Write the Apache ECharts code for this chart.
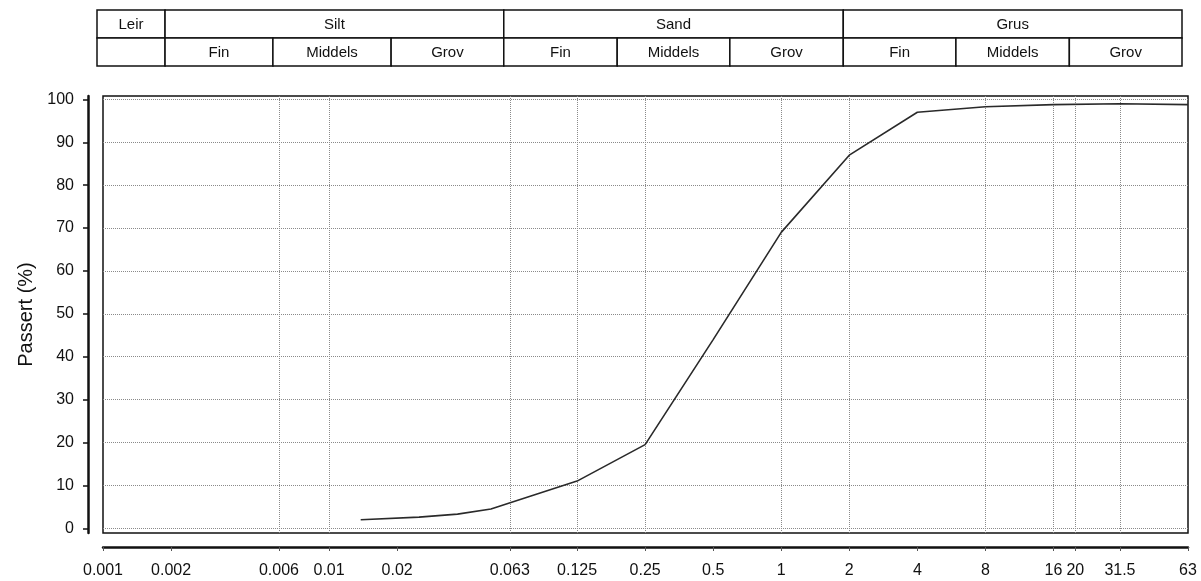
<!DOCTYPE html>
<html><head><meta charset="utf-8">
<script src="https://cdn.jsdelivr.net/npm/echarts@6/dist/echarts.min.js"></script>
<style>html,body{margin:0;padding:0;background:#fff}#c{width:1201px;height:581px}</style>
</head><body><div id="c"></div>
<script>
// Sieve curve data (grain size in mm, percent passing)
const grainSize = [0.0138, 0.025, 0.037, 0.052, 0.125, 0.25, 0.5, 1, 2, 4, 8, 16, 31.5, 63];
const passing   = [2.0, 2.6, 3.3, 4.5, 11, 19.5, 44, 69, 87, 97, 98.3, 98.8, 99, 98.8];

// Axis ticks
const xTickValues = [0.001, 0.002, 0.006, 0.01, 0.02, 0.063, 0.125, 0.25, 0.5, 1, 2, 4, 8, 16, 20, 31.5, 63];
const xTickLabels = ['0.001', '0.002', '0.006', '0.01', '0.02', '0.063', '0.125', '0.25', '0.5', '1', '2', '4', '8', '16', '20', '31.5', '63'];
const xGridValues = [0.006, 0.01, 0.063, 0.125, 0.25, 1, 2, 8, 16, 20, 31.5];
const yTickValues = [0, 10, 20, 30, 40, 50, 60, 70, 80, 90, 100];

// Classification table
const mainClassNames  = ['Leir', 'Silt', 'Sand', 'Grus'];
const mainClassBounds = [0.001, 0.002, 0.063, 2, 63];
const subClassNames   = ['', 'Fin', 'Middels', 'Grov', 'Fin', 'Middels', 'Grov', 'Fin', 'Middels', 'Grov'];
const subClassBounds  = [0.001, 0.002, 0.006, 0.02, 0.063, 0.2, 0.63, 2, 6.3, 20, 63];

const FONT = '"Liberation Sans", Arial, Helvetica, sans-serif';
const INK = '#111';

function labelFor(v) {
  let best = 0, bd = Infinity;
  for (let i = 0; i < xTickValues.length; i++) {
    const d = Math.abs(Math.log(v) - Math.log(xTickValues[i]));
    if (d < bd) { bd = d; best = i; }
  }
  return xTickLabels[best];
}

const curve = grainSize.map((g, i) => [g, passing[i]]);
const mainRow = mainClassNames.map((n, i) => [mainClassBounds[i], mainClassBounds[i + 1], 1]);
const subRow = subClassNames.map((n, i) => [subClassBounds[i], subClassBounds[i + 1], 0]);

function cellRenderer(names) {
  return function (params, api) {
    const p0 = api.coord([api.value(0), api.value(2) + 1]);
    const p1 = api.coord([api.value(1), api.value(2)]);
    return {
      type: 'group',
      children: [
        { type: 'rect', shape: { x: p0[0], y: p0[1], width: p1[0] - p0[0], height: p1[1] - p0[1] },
          style: { fill: '#fff', stroke: INK, lineWidth: 1.5 } },
        { type: 'text', style: { text: names[params.dataIndex], x: (p0[0] + p1[0]) / 2, y: (p0[1] + p1[1]) / 2 + 1,
          align: 'center', verticalAlign: 'middle', fontSize: 15, fontFamily: FONT, fill: INK } }
      ]
    };
  };
}

const chart = echarts.init(document.getElementById('c'), null, { renderer: 'canvas' });
chart.setOption({
  animation: false,
  backgroundColor: '#fff',
  grid: [
    { left: 103, right: 13, top: 96, bottom: 48, show: true, borderColor: INK, borderWidth: 1.5, backgroundColor: 'transparent' },
    { left: 97, right: 19, top: 10, height: 56, show: false }
  ],
  xAxis: [
    { type: 'log', gridIndex: 0, min: 0.001, max: 63, position: 'bottom', offset: 14,
      axisLine: { show: true, onZero: false, lineStyle: { color: INK, width: 2.5 } },
      axisTick: { show: true, inside: false, length: 4, customValues: xTickValues, lineStyle: { color: '#555', width: 1 } },
      axisLabel: { show: true, customValues: xTickValues, margin: 16, fontSize: 16, fontFamily: FONT, color: INK, formatter: labelFor },
      splitLine: { show: false }, minorTick: { show: false }, minorSplitLine: { show: false } },
    { type: 'log', gridIndex: 0, min: 0.001, max: 63, position: 'top',
      axisLine: { show: false }, axisLabel: { show: false },
      axisTick: { show: false, customValues: xGridValues },
      splitLine: { show: true, lineStyle: { color: '#8a8a8a', type: 'dotted', width: 1 } } },
    { type: 'log', gridIndex: 1, min: 0.001, max: 63, show: false }
  ],
  yAxis: [
    { type: 'value', gridIndex: 0, min: -1.1, max: 100.8, position: 'left', offset: 15,
      name: 'Passert (%)', nameLocation: 'middle', nameGap: 47, nameRotate: 90,
      nameTextStyle: { fontSize: 20, fontFamily: FONT, color: INK },
      axisLine: { show: true, onZero: false, lineStyle: { color: INK, width: 2.5 } },
      axisTick: { show: true, length: 5, customValues: yTickValues, lineStyle: { color: INK, width: 1.5 } },
      axisLabel: { show: true, customValues: yTickValues, margin: 14, fontSize: 16, fontFamily: FONT, color: INK },
      splitLine: { show: true, lineStyle: { color: '#8a8a8a', type: 'dotted', width: 1 } } },
    { type: 'value', gridIndex: 1, min: 0, max: 2, show: false }
  ],
  series: [
    { type: 'line', xAxisIndex: 0, yAxisIndex: 0, data: curve, showSymbol: false, symbol: 'none',
      lineStyle: { color: '#2a2a2a', width: 1.6 }, smooth: false, silent: true },
    { type: 'custom', xAxisIndex: 2, yAxisIndex: 1, data: mainRow, renderItem: cellRenderer(mainClassNames), silent: true },
    { type: 'custom', xAxisIndex: 2, yAxisIndex: 1, data: subRow, renderItem: cellRenderer(subClassNames), silent: true }
  ]
});
</script>
</body></html>
